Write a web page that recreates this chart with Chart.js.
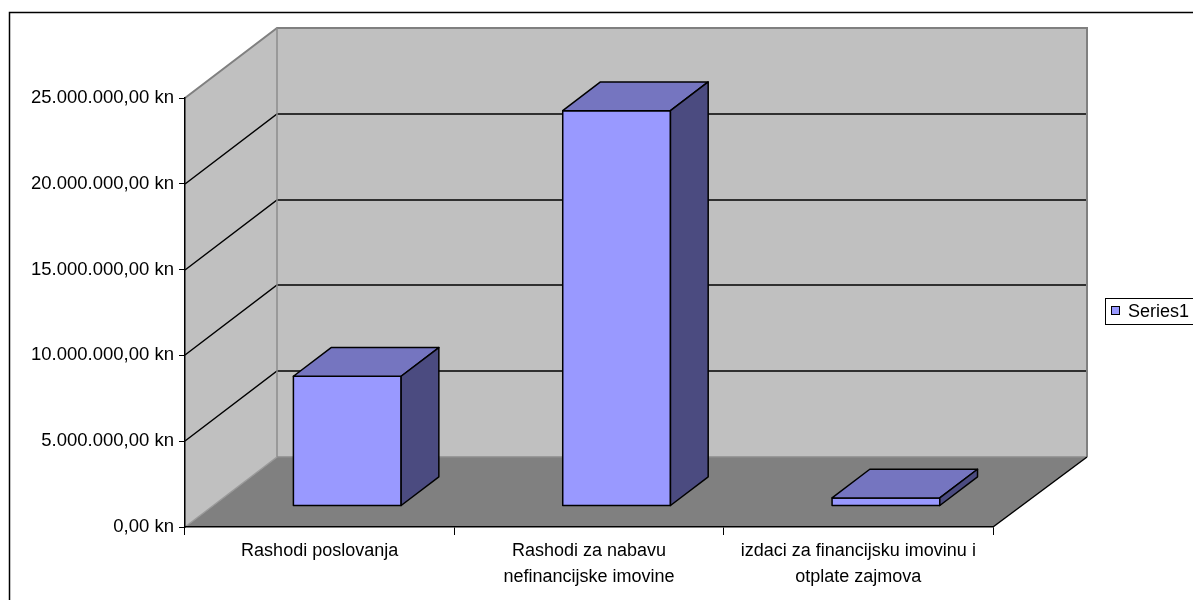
<!DOCTYPE html>
<html>
<head>
<meta charset="utf-8">
<title>Rashodi</title>
<script src="https://cdn.jsdelivr.net/npm/chart.js@4.4.1/dist/chart.umd.min.js"></script>
<style>
  html, body { margin: 0; padding: 0; background: #fff; }
  #wrap { width: 1193px; height: 600px; }
</style>
</head>
<body>
<div id="wrap"><canvas id="rashodiChart" width="1193" height="600"></canvas></div>
<script>
// ── Data ─────────────────────────────────────────────────
const CATEGORIES = [
  ["Rashodi poslovanja"],
  ["Rashodi za nabavu", "nefinancijske imovine"],
  ["izdaci za financijsku imovinu i", "otplate zajmova"]
];
const SERIES_LABEL = "Series1";
const SERIES_VALUES = [7560000, 23040000, 470000];
const Y_TICKS = [0, 5000000, 10000000, 15000000, 20000000, 25000000];

// ── 3D look ──────────────────────────────────────────────
const DEPTH = { dx: 92, dy: -70 };        // front plane -> back wall
const BAR_FRONT = 0.3, BAR_BACK = 0.71;   // bar depth as share of DEPTH
const FONT = "'Liberation Sans', Arial, sans-serif";
const BAR_COLORS = { front: "#9999ff", top: "#7575c0", side: "#4b4b80" };

function formatKn(v) {
  const [int, dec] = Number(v).toFixed(2).split(".");
  return int.replace(/\B(?=(\d{3})+(?!\d))/g, ".") + "," + dec + " kn";
}

function poly(ctx, pts, fill, stroke, lw) {
  ctx.beginPath();
  pts.forEach(([x, y], i) => (i ? ctx.lineTo(x, y) : ctx.moveTo(x, y)));
  ctx.closePath();
  if (fill) { ctx.fillStyle = fill; ctx.fill(); }
  if (stroke) { ctx.strokeStyle = stroke; ctx.lineWidth = lw || 1; ctx.stroke(); }
}

function line(ctx, pts, color, lw) {
  ctx.beginPath();
  pts.forEach(([x, y], i) => (i ? ctx.lineTo(x, y) : ctx.moveTo(x, y)));
  ctx.strokeStyle = color; ctx.lineWidth = lw; ctx.stroke();
}

/* ── Walls, floor, wall grid ─────────────────────────────*/
const walls3d = {
  id: "walls3d",
  beforeDraw(chart) {
    const { ctx, chartArea: a, scales: { y } } = chart;
    const L = a.left, R = a.right, T = a.top, B = a.bottom;
    const dx = DEPTH.dx, dy = DEPTH.dy;
    ctx.save();
    ctx.fillStyle = "#c0c0c0";
    ctx.fillRect(L + dx, T + dy, R - L + 2, B - T);
    poly(ctx, [[L, T], [L + dx, T + dy], [L + dx, B + dy], [L, B]], "#c0c0c0");
    poly(ctx, [[L, B], [L + dx, B + dy], [R + dx + 2, B + dy], [R, B]], "#808080");

    Y_TICKS.slice(1, -1).forEach(v => {
      const py = Math.round(y.getPixelForValue(v));
      line(ctx, [[L, py], [L + dx, py + dy], [R + dx + 2, py + dy]], "#000", 1.5);
    });

    // wall edges
    line(ctx, [[L, T], [L + dx, T + dy], [R + dx + 2, T + dy], [R + dx + 2, B + dy]], "#808080", 2);
    line(ctx, [[L + dx, T + dy], [L + dx, B + dy], [R + dx + 2, B + dy]], "#8c8c8c", 1.5);
    line(ctx, [[L, B], [L + dx, B + dy]], "#9a9a9a", 1.5);
    line(ctx, [[R, B], [R + dx + 2, B + dy]], "#000", 1.5);
    ctx.restore();
  }
};

/* ── 3D bars ─────────────────────────────────────────────*/
const bars3d = {
  id: "bars3d",
  afterDatasetsDraw(chart) {
    const ctx = chart.ctx;
    const meta = chart.getDatasetMeta(0);
    const fx = DEPTH.dx * BAR_FRONT, fy = DEPTH.dy * BAR_FRONT;
    const ddx = DEPTH.dx * (BAR_BACK - BAR_FRONT), ddy = DEPTH.dy * (BAR_BACK - BAR_FRONT);
    ctx.save();
    ctx.lineJoin = "round";
    meta.data.forEach(bar => {
      const x0 = bar.x - bar.width / 2 + fx, x1 = x0 + bar.width;
      const top = bar.y + fy, bot = bar.base + fy;
      poly(ctx, [[x0, top], [x1, top], [x1, bot], [x0, bot]], BAR_COLORS.front, "#000", 1.5);
      poly(ctx, [[x0, top], [x0 + ddx, top + ddy], [x1 + ddx, top + ddy], [x1, top]], BAR_COLORS.top, "#000", 1.5);
      poly(ctx, [[x1, top], [x1 + ddx, top + ddy], [x1 + ddx, bot + ddy], [x1, bot]], BAR_COLORS.side, "#000", 1.5);
    });
    ctx.restore();
  }
};

/* ── Outer frame and legend ──────────────────────────────*/
const frameLegend = {
  id: "frameLegend",
  afterDraw(chart) {
    const ctx = chart.ctx;
    ctx.save();
    ctx.strokeStyle = "#000";
    ctx.lineWidth = 1.5;
    ctx.strokeRect(9.5, 12.5, 1400, 800);

    ctx.fillStyle = "#fff";
    ctx.fillRect(1105, 298, 120, 26);
    ctx.lineWidth = 1;
    ctx.strokeRect(1105.5, 298.5, 120, 26);

    ctx.fillStyle = BAR_COLORS.front;
    ctx.fillRect(1111.5, 306.5, 8, 8);
    ctx.strokeRect(1111.5, 306.5, 8, 8);

    ctx.fillStyle = "#000";
    ctx.font = "18px " + FONT;
    ctx.textBaseline = "middle";
    ctx.fillText(chart.data.datasets[0].label, 1128, 312);
    ctx.restore();
  }
};

new Chart(document.getElementById("rashodiChart"), {
  type: "bar",
  data: {
    labels: CATEGORIES,
    datasets: [{
      label: SERIES_LABEL,
      data: SERIES_VALUES,
      backgroundColor: "rgba(0,0,0,0)",
      borderWidth: 0,
      categoryPercentage: 0.8,
      barPercentage: 0.5
    }]
  },
  options: {
    responsive: false,
    animation: false,
    devicePixelRatio: 1,
    layout: { padding: { left: 0, top: 98, right: 200, bottom: 0 } },
    plugins: { legend: { display: false }, tooltip: { enabled: false } },
    scales: {
      x: {
        grid: { drawOnChartArea: false, drawTicks: true, tickLength: 8, color: "#000", offset: true },
        border: { color: "#000", width: 1.5 },
        ticks: { color: "#000", font: { family: FONT, size: 18, lineHeight: 1.45 }, padding: 3, maxRotation: 0, autoSkip: false },
        afterFit: s => { s.height = 73; }
      },
      y: {
        min: 0,
        max: 25000000,
        afterBuildTicks: s => { s.ticks = Y_TICKS.map(v => ({ value: v })); },
        grid: { drawOnChartArea: false, drawTicks: true, tickLength: 6, color: "#000" },
        border: { color: "#000", width: 1.5 },
        ticks: { color: "#000", font: { family: FONT, size: 18.5 }, padding: 5, callback: v => formatKn(v) },
        afterFit: s => { s.width = 185; }
      }
    }
  },
  plugins: [walls3d, bars3d, frameLegend]
});
</script>
</body>
</html>
